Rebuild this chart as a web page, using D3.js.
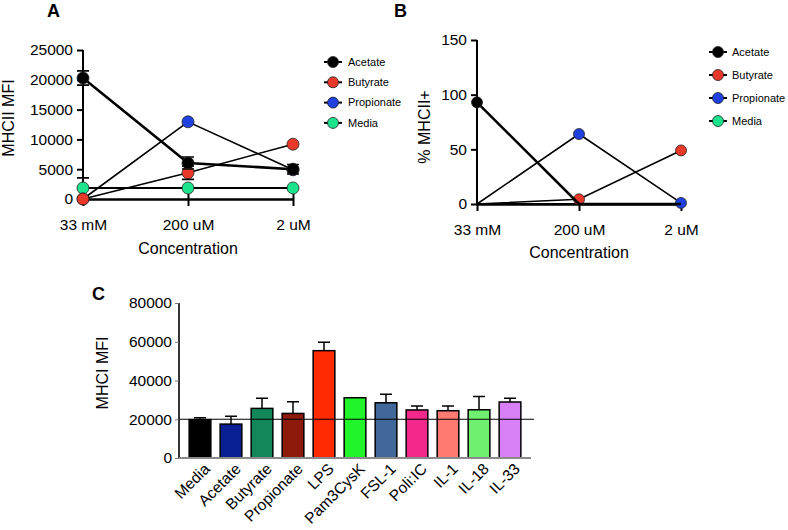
<!DOCTYPE html>
<html>
<head>
<meta charset="utf-8">
<script src="https://cdn.jsdelivr.net/npm/d3@7"></script>
<style>
  body { margin: 0; background: #fff; }
  svg { font-family: "Liberation Sans", Arial, sans-serif; }
</style>
</head>
<body>
<svg id="chart" width="788" height="530"></svg>
<script>
// data
var concentrations = ['33 mM', '200 uM', '2 uM'];
var seriesNames = ['Acetate', 'Butyrate', 'Propionate', 'Media'];
var seriesColors = ['#000000', '#e8382a', '#2040e0', '#1de38e'];

// panel A, MHCII MFI
var mfiAcetate = [20300, 6040, 5000];
var mfiButyrate = [0, 4400, 9200];
var mfiPropionate = [0, 12950, 4900];
var mfiMedia = [1850, 1850, 1850];
var mfiAcetateErr = [1200, 1000, 800];
var mfiButyrateErr = [0, 1100, 0];
var mfiMediaErr = [1700, 0, 0];
var mfiTicks = [0, 5000, 10000, 15000, 20000, 25000];

// panel B, % MHCII+
var pctAcetate = [93, 0, 0];
var pctButyrate = [0, 4.3, 49];
var pctPropionate = [0, 64, 1];
var pctMedia = [0, 0, 0];
var pctTicks = [0, 50, 100, 150];

// panel C, MHCI MFI
var stimuli = ['Media', 'Acetate', 'Butyrate', 'Propionate', 'LPS', 'Pam3CysK', 'FSL-1', 'Poli:IC', 'IL-1', 'IL-18', 'IL-33'];
var mhciMean = [19800, 17500, 25600, 23000, 55400, 31100, 28500, 24800, 24400, 24900, 28900];
var mhciErr = [1000, 4000, 5200, 6000, 4300, 0, 4400, 2000, 2400, 6900, 1900];
var barColors = ['#000000', '#0b1f95', '#14875a', '#8e1a0c', '#ff2a00', '#1ff52a', '#40689a', '#f2288a', '#ff7a70', '#70f070', '#d880f5'];
var mhciTicks = [0, 20000, 40000, 60000, 80000];
var mediaLine = 20000;

var svg = d3.select('#chart');

function fmt(d){ return String(d); }

//line panel (A and B)
function linePanel(opt){
  var g = svg.append('g');
  var x = d3.scalePoint().domain(concentrations).range(opt.xRange);
  var y = d3.scaleLinear().domain(opt.yDomain).range(opt.yRange);

  // y axis
  var ya = g.append('g').attr('transform', 'translate(' + opt.xRange[0] + ',0)')
    .call(d3.axisLeft(y).tickValues(opt.ticks).tickSize(6).tickPadding(4).tickFormat(fmt));
  ya.select('.domain').attr('stroke-width', 2).attr('d', 'M0,' + (opt.yRange[0] + opt.axisExtra) + 'V' + opt.yRange[1]);
  ya.selectAll('.tick line').attr('stroke-width', 2);
  ya.selectAll('.tick text').attr('font-size', 15.5).attr('fill', '#000').attr('font-family', '"Liberation Sans", Arial, sans-serif');

  // x axis at zero
  var xa = g.append('g').attr('transform', 'translate(0,' + y(0) + ')')
    .call(d3.axisBottom(x).tickSizeInner(opt.tickDown).tickSizeOuter(0).tickPadding(13));
  xa.select('.domain').attr('stroke-width', 2.5);
  xa.selectAll('.tick line').attr('stroke-width', 2).attr('y1', -opt.tickUp);
  xa.selectAll('.tick text').attr('font-size', 15.5).attr('fill', '#000').attr('font-family', '"Liberation Sans", Arial, sans-serif');

  // titles
  g.append('text').attr('x', d3.mean(opt.xRange)).attr('y', opt.xTitleY)
    .attr('text-anchor', 'middle').attr('font-size', 16).text('Concentration');
  g.append('text').attr('transform', 'translate(' + opt.yTitleX + ',' + opt.yTitleY + ') rotate(-90)')
    .attr('text-anchor', 'middle').attr('font-size', 16).text(opt.yTitle);
  g.append('text').attr('x', opt.labelX).attr('y', opt.labelY)
    .attr('font-size', 18).attr('font-weight', 'bold').text(opt.label);

  var line = d3.line().x(function(d, i){ return x(concentrations[i]); }).y(function(d){ return y(d); });

  // Prism draws the first data set on top, so go backwards
  for (var s = opt.series.length - 1; s >= 0; s--) {
    var vals = opt.series[s];
    var errs = opt.errors ? opt.errors[s] : null;
    g.append('path').datum(vals).attr('d', line).attr('fill', 'none')
      .attr('stroke', '#000').attr('stroke-width', s === 0 ? 2.6 : (s === 3 ? 2 : 1.6));
    if (errs) {
      vals.forEach(function(v, i){
        if (!errs[i]) return;
        var cx = x(concentrations[i]);
        g.append('path').attr('fill', 'none').attr('stroke', '#000').attr('stroke-width', 1.6)
          .attr('d', 'M' + cx + ',' + y(v - errs[i]) + 'V' + y(v + errs[i]) +
            'M' + (cx - 6) + ',' + y(v + errs[i]) + 'h12' +
            'M' + (cx - 6) + ',' + y(v - errs[i]) + 'h12');
      });
    }
    g.selectAll(null).data(vals.map(function(v, i){ return {v: v, i: i}; })
        .filter(function(d){ return opt.showZero || d.v > 0; }))
      .enter().append('circle')
      .attr('cx', function(d){ return x(concentrations[d.i]); })
      .attr('cy', function(d){ return y(d.v); })
      .attr('r', opt.r)
      .attr('fill', seriesColors[s])
      .attr('stroke', '#222').attr('stroke-width', 0.8);
  }

  // legend
  var lg = g.append('g').attr('transform', 'translate(' + opt.legendX + ',' + opt.legendY + ')');
  seriesNames.forEach(function(name, i){
    var row = lg.append('g').attr('transform', 'translate(0,' + (i * opt.legendStep) + ')');
    row.append('line').attr('x1', -9).attr('x2', 9).attr('stroke', '#000').attr('stroke-width', 2);
    row.append('circle').attr('r', 5.5).attr('fill', seriesColors[i]).attr('stroke', '#222').attr('stroke-width', 0.8);
    row.append('text').attr('x', opt.legendGap).attr('dy', '0.35em').attr('font-size', 11).text(name);
  });
}

linePanel({
  label: 'A', labelX: 47, labelY: 17,
  xRange: [83, 293], yDomain: [0, 25000], yRange: [199, 50],
  ticks: mfiTicks, axisExtra: 5, tickDown: 7, tickUp: 5,
  yTitle: 'MHCII MFI', yTitleX: 14, yTitleY: 118, xTitleY: 254,
  series: [mfiAcetate, mfiButyrate, mfiPropionate, mfiMedia],
  errors: [mfiAcetateErr, mfiButyrateErr, [0, 0, 0], mfiMediaErr],
  showZero: true, r: 6,
  legendX: 333, legendY: 62, legendStep: 20.3, legendGap: 15
});

linePanel({
  label: 'B', labelX: 394, labelY: 17,
  xRange: [477, 681], yDomain: [0, 150], yRange: [204, 40],
  ticks: pctTicks, axisExtra: 0, tickDown: 7, tickUp: 0,
  yTitle: '% MHCII+', yTitleX: 430, yTitleY: 127, xTitleY: 258,
  series: [pctAcetate, pctButyrate, pctPropionate, pctMedia],
  errors: null, showZero: false, r: 5.5,
  legendX: 718, legendY: 52, legendStep: 23, legendGap: 14
});

//bar panel (C)
var xc = d3.scaleBand().domain(stimuli).range([184.5, 525.5]).paddingInner(0.3).paddingOuter(0.15);
var yc = d3.scaleLinear().domain([0, 80000]).range([458, 303]);
var gc = svg.append('g');

var yca = gc.append('g').attr('transform', 'translate(179,0)')
  .call(d3.axisLeft(yc).tickValues(mhciTicks).tickSize(4).tickPadding(3).tickFormat(fmt));
yca.select('.domain').attr('stroke-width', 1.6).attr('d', 'M0,458V303');
yca.selectAll('.tick line').attr('stroke', '#777').attr('stroke-width', 1);
yca.selectAll('.tick text').attr('font-size', 15.5).attr('fill', '#000').attr('font-family', '"Liberation Sans", Arial, sans-serif');

gc.selectAll('.bar').data(stimuli).enter().append('rect')
  .attr('class', 'bar')
  .attr('x', function(d){ return xc(d); })
  .attr('y', function(d, i){ return yc(mhciMean[i]); })
  .attr('width', xc.bandwidth())
  .attr('height', function(d, i){ return yc(0) - yc(mhciMean[i]); })
  .attr('fill', function(d, i){ return barColors[i]; })
  .attr('stroke', '#000').attr('stroke-width', 1.5);

gc.selectAll('.err').data(stimuli).enter().append('path')
  .attr('class', 'err')
  .attr('fill', 'none').attr('stroke', '#000').attr('stroke-width', 1.5)
  .attr('d', function(d, i){
    if (!mhciErr[i]) return null;
    var cx = xc(d) + xc.bandwidth() / 2;
    var top = yc(mhciMean[i] + mhciErr[i]);
    return 'M' + cx + ',' + yc(mhciMean[i]) + 'V' + top + 'M' + (cx - 6) + ',' + top + 'h12';
  });

// baseline and media reference line
gc.append('line').attr('x1', 179).attr('x2', 531).attr('y1', yc(0)).attr('y2', yc(0))
  .attr('stroke', '#8a8a8a').attr('stroke-width', 2);
gc.append('line').attr('x1', 179).attr('x2', 534).attr('y1', yc(mediaLine)).attr('y2', yc(mediaLine))
  .attr('stroke', '#000').attr('stroke-width', 1.2);

gc.selectAll('.xl').data(stimuli).enter().append('text')
  .attr('class', 'xl')
  .attr('transform', function(d){ return 'translate(' + (xc(d) + xc.bandwidth() / 2 + 7) + ',466) rotate(-45)'; })
  .attr('text-anchor', 'end').attr('dy', '0.35em').attr('font-size', 15.5)
  .text(function(d){ return d; });

gc.append('text').attr('transform', 'translate(108,373) rotate(-90)')
  .attr('text-anchor', 'middle').attr('font-size', 16).text('MHCI MFI');
gc.append('text').attr('x', 92).attr('y', 300)
  .attr('font-size', 18).attr('font-weight', 'bold').text('C');
</script>
</body>
</html>
